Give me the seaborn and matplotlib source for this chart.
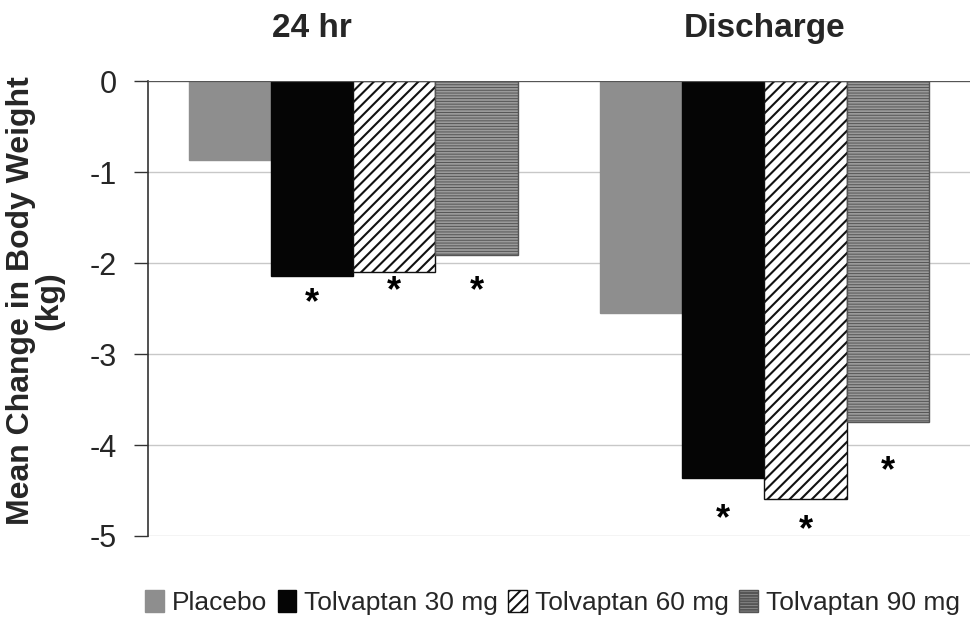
import matplotlib
matplotlib.use("Agg")
import matplotlib.pyplot as plt
import seaborn as sns
import pandas as pd
from matplotlib.patches import Patch

timepoints = ["24 hr", "Discharge"]
groups = ["Placebo", "Tolvaptan 30 mg", "Tolvaptan 60 mg", "Tolvaptan 90 mg"]
change_24hr = [-0.87, -2.14, -2.10, -1.91]
change_discharge = [-2.55, -4.36, -4.59, -3.75]
# asterisk label positions (y, data units); None = no mark
star_24hr = [None, -2.37, -2.24, -2.24]
star_discharge = [None, -4.74, -4.86, -4.22]
yticks = [0, -1, -2, -3, -4, -5]

rows = []
for g, v in zip(groups, change_24hr):
    rows.append({"time": timepoints[0], "group": g, "value": v})
for g, v in zip(groups, change_discharge):
    rows.append({"time": timepoints[1], "group": g, "value": v})
df = pd.DataFrame(rows)

sns.set_theme(style="white")
plt.rcParams["font.family"] = ["Liberation Sans", "DejaVu Sans"]
plt.rcParams["hatch.linewidth"] = 1.5

fig = plt.figure(figsize=(9.71, 6.2), dpi=100)
ax = fig.add_axes([0.152, 0.1355, 0.847, 0.7335])

face = ["#8e8e8e", "#050505", "#ffffff", "#9a9a9a"]
hatch = [None, None, "///", "------"]
edge = ["#8e8e8e", "#050505", "#111111", "#555555"]
hatch_lw = [1.5, 1.5, 1.5, 0.7]

sns.barplot(data=df, x="time", y="value", hue="group", order=timepoints,
            hue_order=groups, palette=face, width=0.8, ax=ax, legend=False,
            saturation=1, errorbar=None)

def style_patch(p, i):
    p.set_facecolor(face[i])
    p.set_edgecolor(edge[i])
    p.set_linewidth(1.0)
    if hatch[i]:
        p.set_hatch(hatch[i])
        if hasattr(p, "set_hatch_linewidth"):
            p.set_hatch_linewidth(hatch_lw[i])

for i, cont in enumerate(ax.containers):
    for p in cont.patches:
        style_patch(p, i)

# asterisks
for i, cont in enumerate(ax.containers):
    for j, p in enumerate(cont.patches):
        ys = [star_24hr, star_discharge][j][i]
        if ys is None:
            continue
        cx = p.get_x() + p.get_width() / 2
        ax.annotate("*", xy=(cx, ys), xytext=(0, -5), textcoords="offset points",
                    ha="center", va="center", fontsize=26,
                    fontweight="bold", color="black", annotation_clip=False)

ax.set_ylim(-5, 0)
ax.set_xlim(-0.5, 1.5)
ax.set_yticks(yticks)
ax.set_yticklabels([str(t) for t in yticks], fontsize=22)
ax.set_xticks([])
ax.set_xlabel("")
ax.set_ylabel("")
ax.yaxis.grid(True, color="#c8c8c8", lw=1.0)
ax.set_axisbelow(True)
for s in ["top", "right", "bottom"]:
    ax.spines[s].set_visible(False)
ax.spines["left"].set_color("#333333")
ax.spines["left"].set_linewidth(1.2)
ax.axhline(0, color="#555555", lw=1.6, zorder=5)
ax.tick_params(axis="y", direction="out", length=10, width=1.0,
               color="#333333", left=True, pad=12)

fig.text(0.036, 0.515, "Mean Change in Body Weight\n(kg)", rotation=90,
         ha="center", va="center", multialignment="center", fontsize=23,
         fontweight="bold", linespacing=0.95)

# group titles
title_x = [-0.1, 1.0]
for t, x in zip(timepoints, title_x):
    ax.text(x, 1.115, t, transform=ax.get_xaxis_transform(), ha="center",
            va="center", fontsize=24, fontweight="bold")

handles = [Patch(facecolor=face[i], edgecolor=edge[i], hatch=hatch[i],
                 label=groups[i]) for i in range(4)]
fig.legend(handles=handles, loc="center", bbox_to_anchor=(0.569, 0.028),
           ncol=4, frameon=False, fontsize=19, handlelength=0.7,
           handleheight=0.9, handletextpad=0.3, columnspacing=0.4,
           borderpad=0.1)

fig.savefig("out.png", dpi=100)
